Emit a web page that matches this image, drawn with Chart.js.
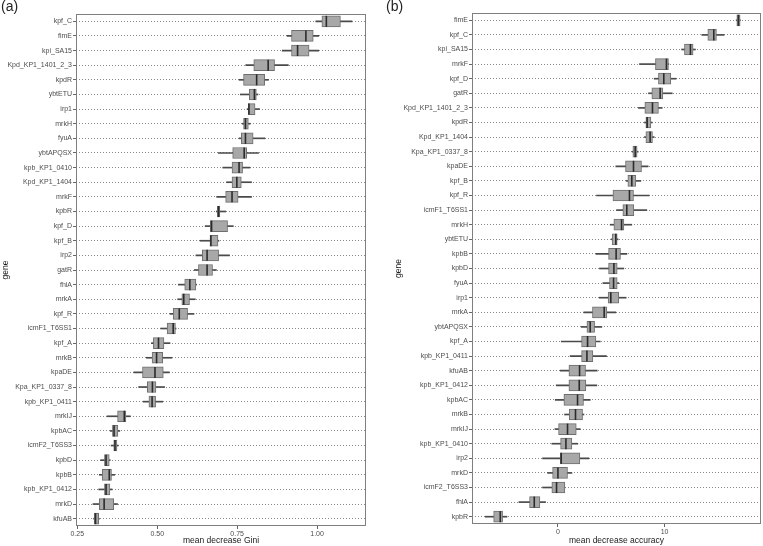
<!DOCTYPE html>
<html>
<head>
<meta charset="UTF-8">
<title>Variable importance boxplots</title>
<script src="https://cdn.jsdelivr.net/npm/chart.js"></script>
<style>
    body { margin: 0; background: #fff; font-family: 'Liberation Sans', Arial, sans-serif; }
    .wrap { position: relative; width: 763px; height: 546px; overflow: hidden; }
    .panel { position: absolute; top: 0; }
    .tag { position: absolute; top: -2px; font-size: 14px; color: #222; }
</style>
</head>
<body>
<div class="wrap">
    <canvas id="chartA" class="panel" width="380" height="546" style="left:0"></canvas>
    <canvas id="chartB" class="panel" width="383" height="546" style="left:380px"></canvas>
    <div class="tag" style="left:1px">(a)</div>
    <div class="tag" style="left:386px">(b)</div>
</div>
<script>
// panel (a): mean decrease Gini
const genesA = ['kpf_C', 'fimE', 'kpi_SA15', 'Kpd_KP1_1401_2_3', 'kpdR', 'ybtETU', 'irp1', 'mrkH', 'fyuA', 'ybtAPQSX',
    'kpb_KP1_0410', 'Kpd_KP1_1404', 'mrkF', 'kpbR', 'kpf_D', 'kpf_B', 'irp2', 'gatR', 'fhlA', 'mrkA', 'kpf_R',
    'icmF1_T6SS1', 'kpf_A', 'mrkB', 'kpaDE', 'Kpa_KP1_0337_8', 'kpb_KP1_0411', 'mrkIJ', 'kpbAC', 'icmF2_T6SS3',
    'kpbD', 'kpbB', 'kpb_KP1_0412', 'mrkD', 'kfuAB'];
const lowA  = [0.996, 0.906, 0.891, 0.777, 0.756, 0.760, 0.781, 0.766, 0.756, 0.691, 0.705, 0.717, 0.686, 0.685, 0.650, 0.634, 0.621, 0.616, 0.566, 0.564, 0.540, 0.511, 0.482, 0.466, 0.427, 0.442, 0.456, 0.343, 0.353, 0.356, 0.323, 0.319, 0.317, 0.299, 0.301];
const q1A   = [1.015, 0.920, 0.920, 0.802, 0.770, 0.788, 0.785, 0.770, 0.763, 0.736, 0.734, 0.734, 0.714, 0.688, 0.666, 0.665, 0.641, 0.629, 0.586, 0.577, 0.550, 0.531, 0.488, 0.484, 0.454, 0.469, 0.474, 0.376, 0.360, 0.364, 0.335, 0.328, 0.335, 0.319, 0.303];
const medA  = [1.029, 0.965, 0.939, 0.847, 0.811, 0.804, 0.787, 0.776, 0.776, 0.772, 0.756, 0.749, 0.734, 0.692, 0.670, 0.668, 0.656, 0.656, 0.602, 0.583, 0.569, 0.550, 0.504, 0.498, 0.493, 0.485, 0.484, 0.397, 0.365, 0.368, 0.340, 0.350, 0.340, 0.334, 0.307];
const q3A   = [1.073, 0.988, 0.975, 0.867, 0.836, 0.810, 0.806, 0.785, 0.800, 0.780, 0.767, 0.763, 0.753, 0.696, 0.720, 0.690, 0.692, 0.673, 0.621, 0.601, 0.595, 0.557, 0.521, 0.517, 0.519, 0.496, 0.495, 0.402, 0.377, 0.374, 0.350, 0.357, 0.352, 0.364, 0.317];
const highA = [1.109, 1.005, 1.005, 0.910, 0.848, 0.815, 0.820, 0.791, 0.837, 0.817, 0.790, 0.795, 0.795, 0.714, 0.738, 0.693, 0.726, 0.685, 0.623, 0.619, 0.615, 0.559, 0.540, 0.546, 0.538, 0.523, 0.517, 0.416, 0.383, 0.378, 0.353, 0.367, 0.359, 0.376, 0.319];
const ticksA = [0.25, 0.50, 0.75, 1.00];

// panel (b): mean decrease accuracy
const genesB = ['fimE', 'kpf_C', 'kpi_SA15', 'mrkF', 'kpf_D', 'gatR', 'Kpd_KP1_1401_2_3', 'kpdR', 'Kpd_KP1_1404',
    'Kpa_KP1_0337_8', 'kpaDE', 'kpf_B', 'kpf_R', 'icmF1_T6SS1', 'mrkH', 'ybtETU', 'kpbB', 'kpbD', 'fyuA', 'irp1',
    'mrkA', 'ybtAPQSX', 'kpf_A', 'kpb_KP1_0411', 'kfuAB', 'kpb_KP1_0412', 'kpbAC', 'mrkB', 'mrkIJ', 'kpb_KP1_0410',
    'irp2', 'mrkD', 'icmF2_T6SS3', 'fhlA', 'kpbR'];
const lowB  = [16.72, 13.50, 11.60, 7.65, 9.03, 8.50, 7.55, 8.12, 8.12, 6.96, 5.43, 6.40, 3.62, 5.50, 4.90, 5.00, 3.56, 3.90, 4.22, 3.87, 2.43, 2.18, 0.31, 1.15, 0.22, -0.16, -0.25, 0.62, -0.28, -0.57, -1.44, -0.97, -1.44, -3.66, -6.82];
const q1B   = [16.78, 14.06, 11.87, 9.15, 9.43, 8.81, 8.15, 8.25, 8.25, 7.03, 6.34, 6.56, 5.16, 6.09, 5.25, 5.09, 4.75, 4.75, 4.84, 4.71, 3.24, 2.72, 2.22, 2.22, 1.03, 1.03, 0.56, 1.06, 0.06, 0.25, 0.22, -0.50, -0.57, -2.66, -6.03];
const medB  = [16.93, 14.62, 12.43, 10.18, 9.93, 9.59, 8.87, 8.37, 8.65, 7.25, 7.09, 6.93, 6.71, 6.46, 5.97, 5.43, 5.46, 5.25, 5.22, 4.96, 4.34, 3.03, 2.78, 2.72, 2.03, 2.00, 1.84, 1.65, 0.90, 0.75, 0.31, 0.00, -0.13, -2.22, -5.41];
const q3B   = [17.09, 14.87, 12.68, 10.37, 10.59, 9.84, 9.43, 8.72, 8.87, 7.43, 7.84, 7.31, 7.09, 7.12, 6.19, 5.56, 5.87, 5.56, 5.56, 5.71, 4.59, 3.44, 3.56, 3.28, 2.59, 2.62, 2.40, 2.31, 1.72, 1.31, 2.06, 0.90, 0.65, -1.69, -5.19];
const highB = [17.12, 15.59, 12.90, 10.40, 11.09, 10.72, 9.78, 8.84, 9.03, 7.53, 8.46, 7.78, 8.56, 8.34, 6.93, 5.65, 6.47, 6.18, 5.71, 6.40, 5.43, 4.12, 3.97, 4.56, 3.68, 3.65, 3.03, 2.44, 2.09, 1.87, 2.90, 1.31, 0.65, -1.16, -4.78];
const ticksB = [0, 10];

Chart.defaults.font.family = "'Liberation Sans', Arial, sans-serif";
Chart.defaults.color = '#4d4d4d';

// median strokes and panel frame, placed with the chart's own scales
const boxExtras = {
    id: 'boxExtras',
    afterDatasetsDraw(chart, args, opts) {
        const ctx = chart.ctx;
        const xs = chart.scales.x, ys = chart.scales.y;
        ctx.save();
        ctx.strokeStyle = '#2b2b2b';
        ctx.lineWidth = 1.6;
        opts.medians.forEach((m, i) => {
            const x = xs.getPixelForValue(m);
            const y = ys.getPixelForValue(i);
            ctx.beginPath();
            ctx.moveTo(x, y - 5.5);
            ctx.lineTo(x, y + 5.5);
            ctx.stroke();
        });
        const a = chart.chartArea;
        ctx.strokeStyle = '#7f7f7f';
        ctx.lineWidth = 1;
        ctx.strokeRect(Math.round(a.left) + 0.5, Math.round(a.top) + 0.5,
            Math.round(a.right - a.left) - 1, Math.round(a.bottom - a.top) - 1);
        ctx.restore();
    }
};

function makeChart(id, genes, low, q1, med, q3, high, tickVals, xMin, xMax, xTitle, cfg) {
    new Chart(document.getElementById(id), {
        type: 'bar',
        data: {
            labels: genes,
            datasets: [
                {
                    label: 'whisker',
                    data: low.map((v, i) => [v, high[i]]),
                    backgroundColor: '#4a4a4a',
                    barThickness: 1,
                    grouped: false,
                    order: 2
                },
                {
                    label: 'box',
                    data: q1.map((v, i) => [v, q3[i]]),
                    backgroundColor: '#a8a8a8',
                    borderColor: '#6e6e6e',
                    borderWidth: 1,
                    borderSkipped: false,
                    barThickness: 11,
                    grouped: false,
                    order: 1
                }
            ]
        },
        options: {
            indexAxis: 'y',
            responsive: false,
            animation: false,
            layout: { padding: cfg.padding },
            plugins: {
                legend: { display: false },
                tooltip: { enabled: false },
                boxExtras: { medians: med }
            },
            scales: {
                x: {
                    type: 'linear',
                    min: xMin,
                    max: xMax,
                    afterBuildTicks: s => { s.ticks = tickVals.map(v => ({ value: v })); },
                    afterFit: s => { s.height = cfg.xHeight; },
                    border: { display: false },
                    grid: { drawOnChartArea: false, drawTicks: true, tickLength: 3, tickColor: '#666' },
                    ticks: {
                        padding: 1,
                        font: { size: 7 },
                        color: '#4d4d4d',
                        callback: v => cfg.fmt(v)
                    },
                    title: { display: true, text: xTitle, color: '#1a1a1a', font: { size: 8.5 }, padding: 0 }
                },
                y: {
                    type: 'category',
                    afterFit: s => { s.width = cfg.yWidth; },
                    border: { display: false, dash: [1, 2] },
                    grid: {
                        offset: false,
                        color: '#8a8a8a',
                        lineWidth: 1,
                        tickBorderDash: [],
                        tickColor: '#666',
                        tickLength: 3
                    },
                    ticks: { autoSkip: false, padding: 1, font: { size: 7 }, color: '#4d4d4d' },
                    title: { display: true, text: 'gene', color: '#1a1a1a', font: { size: 8.5 }, padding: { top: cfg.yTitlePad, bottom: 0 } }
                }
            }
        },
        plugins: [boxExtras]
    });
}

makeChart('chartA', genesA, lowA, q1A, medA, q3A, highA, ticksA, 0.246, 1.153, 'mean decrease Gini', {
    padding: { top: 14, right: 14, left: 0, bottom: 0 },
    xHeight: 20, yWidth: 76, yTitlePad: 1, fmt: v => v.toFixed(2)
});
makeChart('chartB', genesB, lowB, q1B, medB, q3B, highB, ticksB, -8.06, 19.05, 'mean decrease accuracy', {
    padding: { top: 13, right: 2, left: 0, bottom: 0 },
    xHeight: 22, yWidth: 92, yTitlePad: 14, fmt: v => String(v)
});
</script>
</body>
</html>
